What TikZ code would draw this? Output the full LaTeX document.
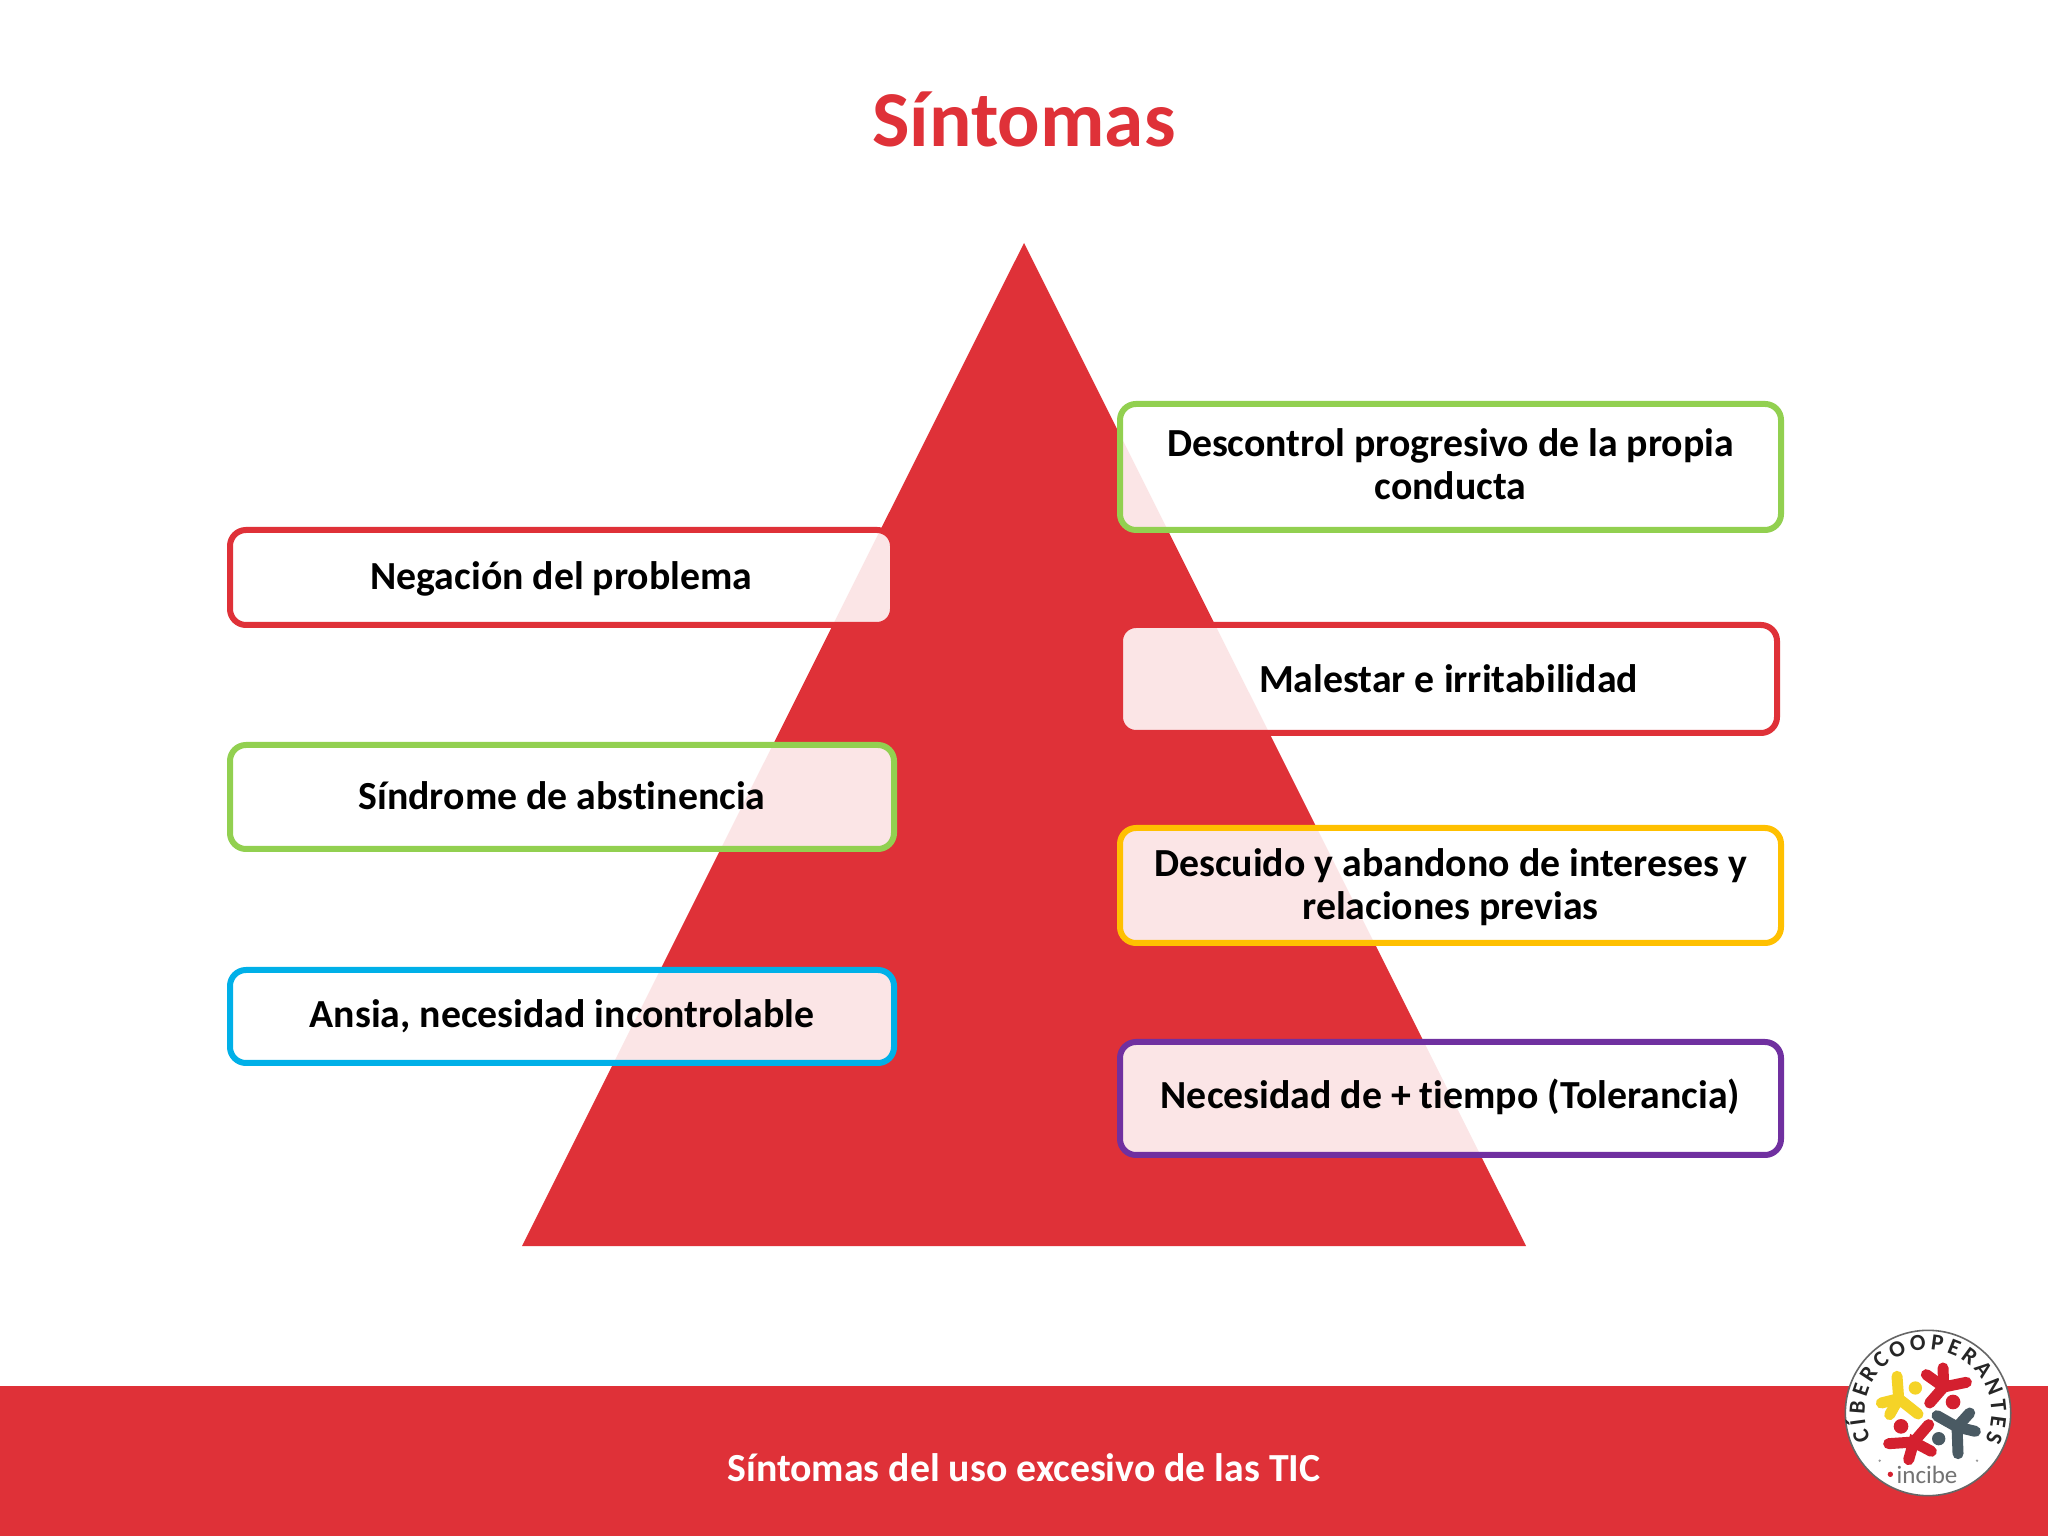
\documentclass[tikz,border=0pt]{standalone}
\usepackage{fontspec}
\setmainfont{Carlito}[Ligatures=NoCommon]
\usetikzlibrary{decorations.text}
\definecolor{brandred}{HTML}{DF3138}
\definecolor{boxgreen}{HTML}{92D050}
\definecolor{boxblue}{HTML}{00B0E8}
\definecolor{boxyellow}{HTML}{FFC000}
\definecolor{boxpurple}{HTML}{7030A0}
\definecolor{logoyellow}{HTML}{F5D327}
\definecolor{logored}{HTML}{D4202F}
\definecolor{logogray}{HTML}{4A5A63}
\newcommand{\twolines}[2]{\begin{tabular}{@{}c@{}}#1\\#2\end{tabular}}
\newcommand{\nudged}[2]{\raisebox{#1}[\height][\depth]{#2}}
\tikzset{
  x=0.5pt,y=0.5pt,
  symptombox/.style n args={3}{draw=#1,line width=3pt,rounded corners=8pt,
    fill=white,fill opacity=.88,draw opacity=1,text opacity=1,
    minimum width=#2*0.5pt,minimum height=#3*0.5pt,inner sep=0pt,outer sep=0pt,
    align=center,font=\fontsize{19.9}{21.5}\selectfont\bfseries,text=black},
  limb/.style={line width=#1,line cap=round},
  limb/.default=3pt
}
\begin{document}
\begin{tikzpicture}
\useasboundingbox (0,0) rectangle (2048,1536);
\fill[white] (0,0) rectangle (2048,1536);
\fill[brandred] (0,0) rectangle (2048,150);
\node[font=\fontsize{39.6}{42}\selectfont\bfseries,text=brandred,inner sep=0pt] (title) at (1024,1416.5) {Síntomas};
\node[font=\fontsize{19.9}{22}\selectfont\bfseries,text=white,inner sep=0pt] (footer) at (1024,68.3) {Síntomas del uso excesivo de las TIC};
\fill[brandred] (1024,1293) -- (522,290) -- (1526,290) -- cycle;

\node[symptombox={brandred}{663}{95}] (neg) at (561.5,958.5) {\nudged{-0.6pt}{Negación del problema}};
\node[symptombox={boxgreen}{664}{104}] (sin) at (562,739) {\nudged{0.6pt}{Síndrome de abstinencia}};
\node[symptombox={boxblue}{664}{93}] (ans) at (562,519.5) {Ansia, necesidad incontrolable};
\node[symptombox={boxgreen}{661}{126}] (des) at (1450.5,1069) {\nudged{-1.3pt}{\twolines{Descontrol progresivo de la propia}{conducta}}};
\node[symptombox={brandred}{657}{108}] (mal) at (1448.5,857) {Malestar e irritabilidad};
\node[symptombox={boxyellow}{661}{115}] (dcu) at (1450.5,650.5) {\nudged{-2pt}{\twolines{Descuido y abandono de intereses y}{relaciones previas}}};
\node[symptombox={boxpurple}{661}{113}] (nec) at (1450.5,437.5) {\nudged{0.6pt}{Necesidad de + tiempo (Tolerancia)}};

% logo
\begin{scope}[shift={(1928,123)},x=0.1667pt,y=0.1667pt]
\fill[white,draw=gray!80!black,line width=0.8pt] (0,0) circle (248);
\path[postaction={decorate},decoration={text along path,text align={fit to path},
   text={|\fontsize{11.5}{12}\selectfont\bfseries\color{black!85}|CÍBERCOOPERANTES}}]
   (205:190) arc (205:-26:190);
% yellow
\draw[logoyellow,limb=5.5pt] (-93,110) -- (-88,43) -- (-140,30);
\draw[logoyellow,limb=5.5pt] (-115,-5) -- (-88,43) -- (-30,-3);
\fill[logoyellow] (-38,75) circle (20);
% red top right
\draw[logored,limb=5.5pt] (-5,115) -- (47,78) -- (115,92);
\draw[logored,limb=5.5pt] (45,135) -- (47,78) -- (5,30);
\fill[logored] (75,33) circle (22);
% gray
\draw[logogray,limb=5.5pt] (27,-8) -- (87,-42) -- (125,0);
\draw[logogray,limb=5.5pt] (142,-55) -- (87,-42) -- (90,-122);
\fill[logogray] (32,-77) circle (20);
% red bottom left
\draw[logored,limb=5.5pt] (2,-35) -- (-43,-87) -- (-118,-92);
\draw[logored,limb=5.5pt] (-58,-140) -- (-43,-87) -- (10,-115);
\fill[logored] (-81,-40) circle (22);
\fill[logored] (-113,-184) circle (8);
\fill[black!40] (-145,-143) circle (4) (147,-143) circle (4);
\node[text=black!55,font=\fontsize{12.5}{13}\selectfont,inner sep=0pt] (incibe) at (-3,-187) {incibe};
\end{scope}
\end{tikzpicture}
\end{document}
